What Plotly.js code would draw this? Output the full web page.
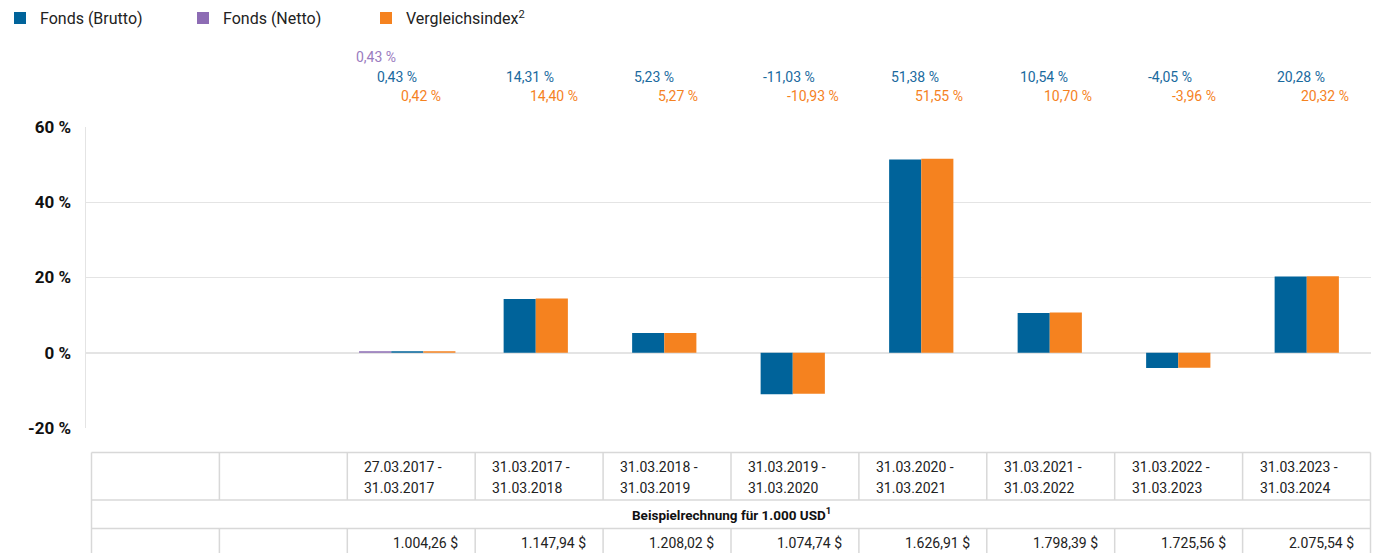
<!DOCTYPE html>
<html>
<head>
<meta charset="utf-8">
<script src="https://cdn.plot.ly/plotly-3.0.1.min.js"></script>
<style>html,body{margin:0;padding:0;background:#fff;}#chart{width:1373px;height:553px;}</style>
</head>
<body>
<div id="chart"></div>
<script>
// ---- data ----
const periodStart = ["", "", "27.03.2017 -", "31.03.2017 -", "31.03.2018 -", "31.03.2019 -", "31.03.2020 -", "31.03.2021 -", "31.03.2022 -", "31.03.2023 -"];
const periodEnd   = ["", "", "31.03.2017", "31.03.2018", "31.03.2019", "31.03.2020", "31.03.2021", "31.03.2022", "31.03.2023", "31.03.2024"];
const fondsBrutto = [null, null, 0.43, 14.31, 5.23, -11.03, 51.38, 10.54, -4.05, 20.28];
const fondsNetto  = [null, null, 0.43, null, null, null, null, null, null, null];
const vergleich   = [null, null, 0.42, 14.40, 5.27, -10.93, 51.55, 10.70, -3.96, 20.32];
const beispiel    = ["", "", "1.004,26 $", "1.147,94 $", "1.208,02 $", "1.074,74 $", "1.626,91 $", "1.798,39 $", "1.725,56 $", "2.075,54 $"];
const yTicks = [-20, 0, 20, 40, 60];
const yTickText = ["-20 %", "0 %", "20 %", "40 %", "60 %"];
const seriesNames = ["Fonds (Brutto)", "Fonds (Netto)", "Vergleichsindex<sup>2</sup>"];
const tableTitle = "<b>Beispielrechnung für 1.000 USD<sup>1</sup></b>";

// ---- styling ----
const C_BLUE = "#00639a", C_PURPLE = "#8d6cb4", C_ORANGE = "#f5821f";
const W = 1373, H = 553;
const M = {l: 86, r: 2, t: 127, b: 125};
const plotW = W - M.l - M.r, plotH = H - M.t - M.b;
const px2x = px => (px - M.l) / plotW;
const py2y = py => (H - M.b - py) / plotH;
const BW = 0.25;
const xIdx = periodEnd.map((_, i) => i);

// order of bars within a group: netto, brutto, vergleich
const order = [fondsNetto, fondsBrutto, vergleich];
function offsetsFor(arr) {
  return xIdx.map(i => {
    const present = order.filter(s => s[i] !== null);
    const k = present.indexOf(arr);
    return k < 0 ? 0 : -present.length * BW / 2 + k * BW;
  });
}
const fmt = v => v.toFixed(2).replace('.', ',') + ' %';

const traces = [
  {type: 'bar', name: seriesNames[0], x: xIdx, y: fondsBrutto, width: BW, offset: offsetsFor(fondsBrutto),
   marker: {color: C_BLUE, line: {width: 0}}, hoverinfo: 'skip'},
  {type: 'bar', name: seriesNames[1], x: xIdx, y: fondsNetto, width: BW, offset: offsetsFor(fondsNetto),
   marker: {color: C_PURPLE, line: {width: 0}}, hoverinfo: 'skip'},
  {type: 'bar', name: seriesNames[2], x: xIdx, y: vergleich, width: BW, offset: offsetsFor(vergleich),
   marker: {color: C_ORANGE, line: {width: 0}}, hoverinfo: 'skip'}
];

const annotations = [];
const labelFont = {family: 'Roboto, sans-serif', size: 14};
const rows = [
  {data: fondsNetto, color: "#9a7cc0", py: 57, shift: -53},
  {data: fondsBrutto, color: "#1a6a9e", py: 77, shift: -32},
  {data: vergleich, color: C_ORANGE, py: 96, shift: -8}
];
rows.forEach(r => r.data.forEach((v, i) => {
  if (v === null) return;
  annotations.push({x: i, xref: 'x', y: py2y(r.py), yref: 'paper', text: fmt(v), showarrow: false,
    xanchor: 'left', yanchor: 'middle', xshift: r.shift, font: Object.assign({color: r.color}, labelFont)});
}));

// ---- table below the chart ----
const tLeft = 91.5, colW = 127.9, nCols = periodEnd.length;
const tRight = tLeft + colW * nCols;
const rowLines = [452.5, 500, 528.5];
const tBottom = 600;
const lineStyle = {color: '#d8d8d8', width: 1.5};
const shapes = [];
rowLines.forEach(py => shapes.push({type: 'line', xref: 'paper', yref: 'paper',
  x0: px2x(tLeft), x1: px2x(tRight), y0: py2y(py), y1: py2y(py), line: lineStyle, layer: 'above'}));
for (let c = 0; c <= nCols; c++) {
  const xc = px2x(tLeft + c * colW);
  if (c === 0 || c === nCols) {
    shapes.push({type: 'line', xref: 'paper', yref: 'paper', x0: xc, x1: xc, y0: py2y(rowLines[0]), y1: py2y(tBottom), line: lineStyle});
  } else {
    shapes.push({type: 'line', xref: 'paper', yref: 'paper', x0: xc, x1: xc, y0: py2y(rowLines[0]), y1: py2y(rowLines[1]), line: lineStyle});
    shapes.push({type: 'line', xref: 'paper', yref: 'paper', x0: xc, x1: xc, y0: py2y(rowLines[2]), y1: py2y(tBottom), line: lineStyle});
  }
}
const tFont = {family: 'Roboto, sans-serif', size: 14, color: '#222'};
periodStart.forEach((s, i) => {
  if (!s) return;
  const xl = px2x(tLeft + i * colW + 15);
  annotations.push({x: xl, xref: 'paper', y: py2y(467), yref: 'paper', text: s, showarrow: false, xanchor: 'left', yanchor: 'middle', font: tFont});
  annotations.push({x: xl, xref: 'paper', y: py2y(488), yref: 'paper', text: periodEnd[i], showarrow: false, xanchor: 'left', yanchor: 'middle', font: tFont});
});
annotations.push({x: px2x((tLeft + tRight) / 2), xref: 'paper', y: py2y(514), yref: 'paper', text: tableTitle, showarrow: false,
  xanchor: 'center', yanchor: 'middle', font: {family: 'Roboto, sans-serif', size: 13.5, color: '#111'}});
beispiel.forEach((s, i) => {
  if (!s) return;
  annotations.push({x: px2x(tLeft + (i + 1) * colW - 15), xref: 'paper', y: py2y(543), yref: 'paper', text: s, showarrow: false,
    xanchor: 'right', yanchor: 'middle', font: tFont});
});

const layout = {
  width: W, height: H,
  margin: M,
  paper_bgcolor: '#fff', plot_bgcolor: '#fff',
  barmode: 'overlay',
  showlegend: true,
  legend: {orientation: 'h', xref: 'paper', x: px2x(-10), xanchor: 'left', yref: 'container', y: 0.998, yanchor: 'top',
    entrywidth: 138, entrywidthmode: 'pixels', font: {family: 'Roboto, sans-serif', size: 16, color: '#222'},
    bgcolor: 'rgba(0,0,0,0)', borderwidth: 0, itemclick: false, itemdoubleclick: false},
  xaxis: {range: [-0.5, 9.5], showgrid: false, zeroline: false, showticklabels: false, showline: false, fixedrange: true},
  yaxis: {range: [-20, 60], tickvals: yTicks, ticktext: yTickText, showgrid: true, gridcolor: '#e4e4e4', gridwidth: 1.5,
    zeroline: false, showline: true, linecolor: '#e4e4e4', linewidth: 1.5, ticks: '', ticklabelstandoff: 10,
    tickfont: {family: 'Roboto, sans-serif', size: 17, color: '#111', weight: 'bold'}, fixedrange: true},
  shapes: shapes,
  annotations: annotations
};

Plotly.newPlot('chart', traces, layout, {displayModeBar: false, staticPlot: true});
</script>
</body>
</html>
